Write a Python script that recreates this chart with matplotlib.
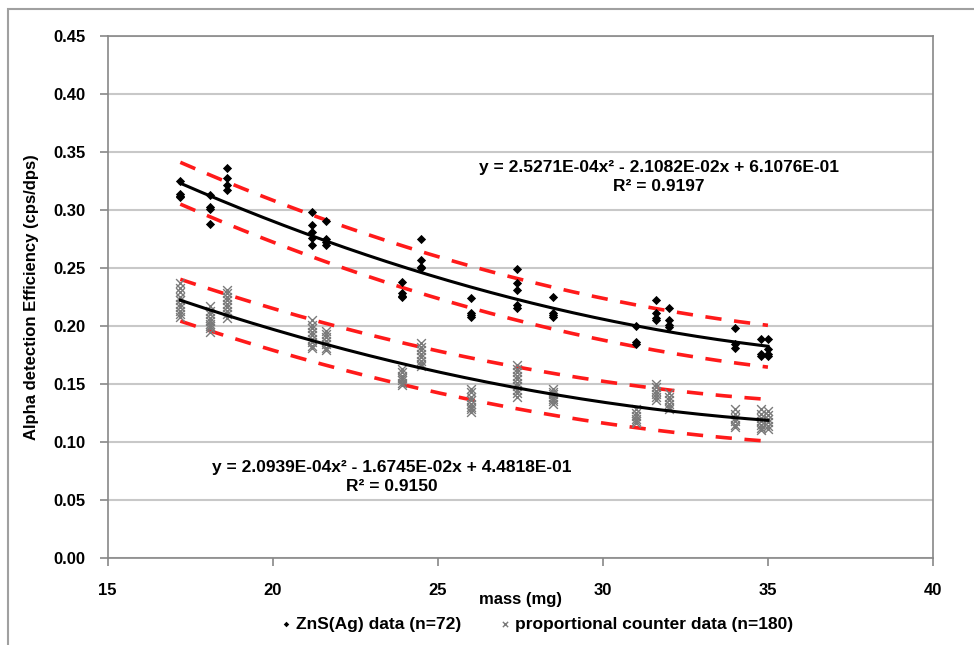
import numpy as np
import matplotlib
matplotlib.use("Agg")
import matplotlib.pyplot as plt
from matplotlib.patches import Rectangle

plt.rcParams['font.family'] = ['Liberation Sans', 'DejaVu Sans']
plt.rcParams['font.weight'] = 'bold'

# ZnS(Ag) measurements, efficiency values grouped by filter mass (mg)
zns_data = {
    17.2: [0.325, 0.314, 0.312, 0.311],
    18.1: [0.313, 0.302, 0.301, 0.288],
    18.6: [0.336, 0.327, 0.321, 0.317],
    21.2: [0.298, 0.287, 0.281, 0.276, 0.270],
    21.6: [0.290, 0.275, 0.272, 0.270],
    23.9: [0.238, 0.228, 0.226, 0.225],
    24.5: [0.275, 0.257, 0.251, 0.250],
    26.0: [0.224, 0.211, 0.209, 0.208],
    27.4: [0.249, 0.237, 0.231, 0.218, 0.215],
    28.5: [0.225, 0.211, 0.209, 0.208],
    31.0: [0.200, 0.186, 0.184],
    31.6: [0.222, 0.211, 0.207, 0.205],
    32.0: [0.215, 0.205, 0.201, 0.199],
    34.0: [0.198, 0.184, 0.181],
    34.8: [0.189, 0.176, 0.174],
    35.0: [0.189, 0.180, 0.176, 0.174],
}

# proportional counter measurements
pc_data = {
    17.2: [0.237, 0.233, 0.229, 0.225, 0.222, 0.219, 0.216, 0.213, 0.210, 0.208],
    18.1: [0.217, 0.213, 0.210, 0.207, 0.204, 0.202, 0.200, 0.198, 0.195],
    18.6: [0.231, 0.228, 0.225, 0.222, 0.219, 0.216, 0.213, 0.210, 0.207],
    21.2: [0.205, 0.201, 0.198, 0.195, 0.192, 0.189, 0.186, 0.183, 0.181],
    21.6: [0.196, 0.193, 0.190, 0.187, 0.184, 0.181, 0.179],
    23.9: [0.163, 0.160, 0.157, 0.155, 0.153, 0.151, 0.149],
    24.5: [0.185, 0.182, 0.179, 0.176, 0.173, 0.170, 0.167, 0.165],
    26.0: [0.146, 0.143, 0.139, 0.136, 0.133, 0.130, 0.128, 0.126],
    27.4: [0.166, 0.163, 0.160, 0.157, 0.154, 0.151, 0.148, 0.145, 0.142, 0.139],
    28.5: [0.146, 0.143, 0.141, 0.139, 0.137, 0.135, 0.133],
    31.0: [0.128, 0.125, 0.122, 0.120, 0.118, 0.116],
    31.6: [0.150, 0.147, 0.144, 0.141, 0.139, 0.136],
    32.0: [0.142, 0.139, 0.136, 0.133, 0.130, 0.128],
    34.0: [0.128, 0.124, 0.121, 0.118, 0.115, 0.113],
    34.8: [0.128, 0.124, 0.121, 0.118, 0.115, 0.112, 0.110],
    35.0: [0.127, 0.123, 0.120, 0.117, 0.114, 0.111],
}

# quadratic fit coefficients (a, b, c) for y = a*x^2 + b*x + c
zns_coef = [2.5271E-04, -2.1082E-02, 6.1076E-01]
pc_coef = [2.0939E-04, -1.6745E-02, 4.4818E-01]
zns_r2 = 0.9197
pc_r2 = 0.9150
band_half = 0.018  # half width of the prediction band
fit_range = (17.2, 35.0)


def flatten(groups):
    xs, ys = [], []
    for m, vals in groups.items():
        xs += [m] * len(vals)
        ys += vals
    return np.array(xs), np.array(ys)


def eq_text(coef, r2):
    a, b, c = coef
    s = "y = %.4Ex\u00b2 %s %.4Ex %s %.4E" % (a, '-' if b < 0 else '+', abs(b),
                                            '-' if c < 0 else '+', abs(c))
    return s + "\nR\u00b2 = %.4f" % r2


fig = plt.figure(figsize=(9.74, 6.45), dpi=100)
ax = fig.add_axes([107.7 / 974, 87 / 645, (933 - 107.7) / 974, (558 - 35.7) / 645])

# outer chart border
fig.patches.append(Rectangle((8 / 974, -0.05), 1.2, 1.05 - 9 / 645,
                             transform=fig.transFigure, fill=False,
                             edgecolor='#a0a0a0', lw=1.5))

xf = np.linspace(fit_range[0], fit_range[1], 200)
for coef in (zns_coef, pc_coef):
    yf = np.polyval(coef, xf)
    ax.plot(xf, yf + band_half, color='#ff1a1a', lw=2.6, dashes=(4.5, 3.5), zorder=3)
    ax.plot(xf, yf - band_half, color='#ff1a1a', lw=2.6, dashes=(4.5, 3.5), zorder=3)

px, py = flatten(pc_data)
ax.scatter(px, py, marker='x', s=40, c='#7a7a7a', linewidths=1.0, zorder=4,
           label='proportional counter data (n=180)')
zx, zy = flatten(zns_data)
ax.scatter(zx, zy, marker='D', s=22, c='black', linewidths=0, zorder=5,
           label='ZnS(Ag) data (n=72)')

for coef in (zns_coef, pc_coef):
    ax.plot(xf, np.polyval(coef, xf), color='black', lw=2.2, zorder=6)

ax.text(31.7, 0.3285, eq_text(zns_coef, zns_r2), ha='center', va='center',
        fontsize=12.5, fontweight='bold', linespacing=1.35)
ax.text(23.6, 0.0695, eq_text(pc_coef, pc_r2), ha='center', va='center',
        fontsize=12.5, fontweight='bold', linespacing=1.35)

ax.set_xlim(15, 40)
ax.set_ylim(0, 0.45)
ax.set_xticks(np.arange(15, 41, 5))
ax.set_yticks(np.arange(0, 0.451, 0.05))
ax.set_yticklabels(["%.2f" % v for v in np.arange(0, 0.451, 0.05)])
ax.yaxis.grid(True, color='#c8c8c8', lw=1.5)
ax.set_axisbelow(True)
for sp in ax.spines.values():
    sp.set_color('#888888')
    sp.set_linewidth(1.2)
ax.tick_params(axis='both', colors='#888888', length=6, width=1.2, labelcolor='black',
               labelsize=12)
ax.tick_params(axis='x', pad=12)
ax.tick_params(axis='y', pad=10)

ax.set_xlabel('mass (mg)', fontsize=12, fontweight='bold', labelpad=-4)
ax.set_ylabel('Alpha detection Efficiency (cps/dps)', fontsize=12, fontweight='bold',
              labelpad=10)

handles, labels = ax.get_legend_handles_labels()
leg = fig.legend(handles[::-1], labels[::-1], loc='center', ncol=2,
                 bbox_to_anchor=(535 / 974, 1 - 624 / 645), frameon=False,
                 fontsize=12.5, handletextpad=0.1, columnspacing=2.0,
                 markerscale=0.6, handlelength=1.0)

fig.savefig('out.png', dpi=100)
